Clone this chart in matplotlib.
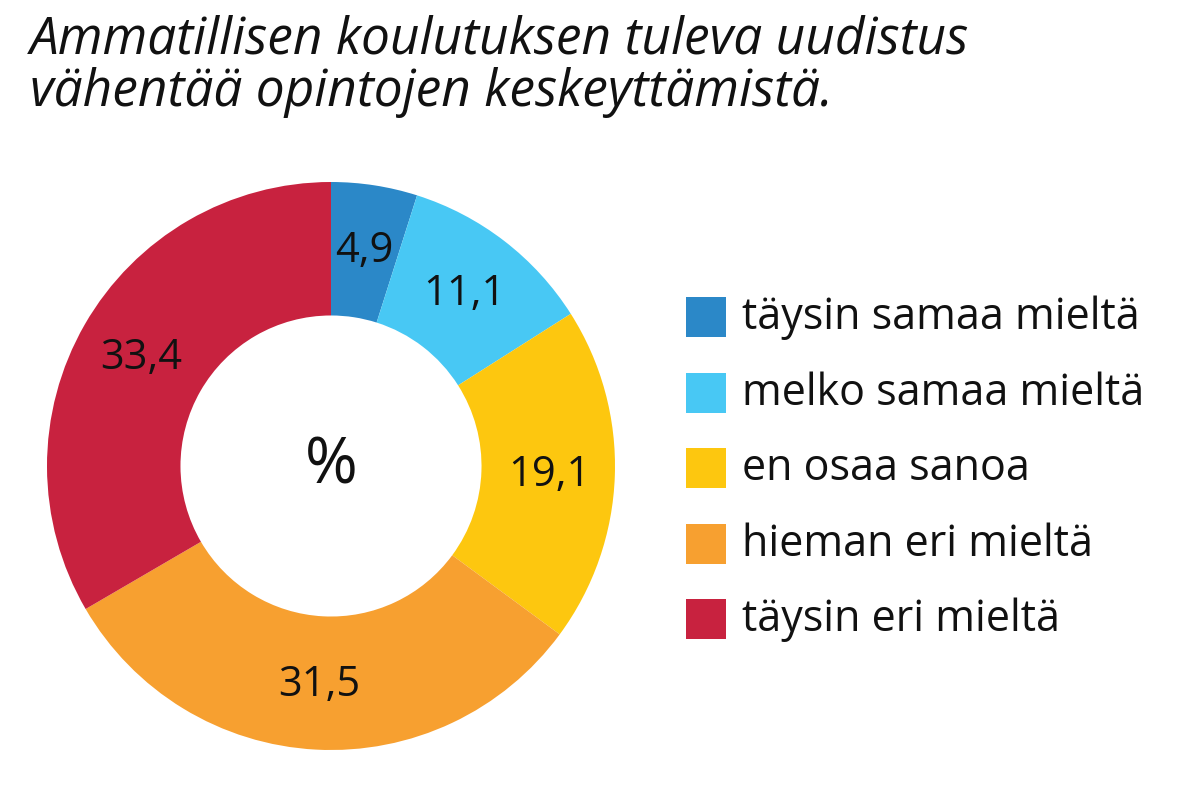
import matplotlib.pyplot as plt
from matplotlib.patches import Rectangle

# --- Data ---
categories = ["täysin samaa mieltä", "melko samaa mieltä", "en osaa sanoa",
              "hieman eri mieltä", "täysin eri mieltä"]
values = [4.9, 11.1, 19.1, 31.5, 33.4]
value_labels = ["4,9", "11,1", "19,1", "31,5", "33,4"]
colors = ["#2b88c8", "#48c8f4", "#fdc70f", "#f7a030", "#c8223f"]
title = "Ammatillisen koulutuksen tuleva uudistus\nvähentää opintojen keskeyttämistä."

W, H = 1199, 812
fig = plt.figure(figsize=(W / 100, H / 100), dpi=100)
plt.rcParams["font.family"] = "Open Sans"

# --- Donut ---
cx, cy, r = 331, H - 467, 284
ax = fig.add_axes([(cx - r) / W, (cy - r) / H, 2 * r / W, 2 * r / H])
wedges, texts = ax.pie(values, colors=colors, startangle=90, counterclock=False,
                       radius=1, wedgeprops=dict(width=0.47, edgecolor="none"),
                       labels=value_labels, labeldistance=0.77,
                       textprops=dict(fontsize=30, color="#111111",
                                      ha="center", va="center"))
for t in texts:
    t.set_horizontalalignment("center")
ax.text(0, 0, "%", fontsize=46, ha="center", va="center", color="#111111")
ax.set_xlim(-1, 1)
ax.set_ylim(-1, 1)
ax.set_aspect("equal")
ax.axis("off")

# --- Title ---
fig.text(30 / W, 1 - 14 / H, title, fontsize=37, style="italic",
         ha="left", va="top", linespacing=1.05, color="#111111")

# --- Legend ---
row0, step = 318, 75.5
for i, (cat, col) in enumerate(zip(categories, colors)):
    y = row0 + i * step
    fig.add_artist(Rectangle((686 / W, 1 - (y + 20) / H), 40 / W, 40 / H,
                             transform=fig.transFigure, color=col, lw=0))
    fig.text(742 / W, 1 - y / H, cat, fontsize=31, ha="left", va="center",
             color="#111111")

plt.savefig("out.png", dpi=100)
